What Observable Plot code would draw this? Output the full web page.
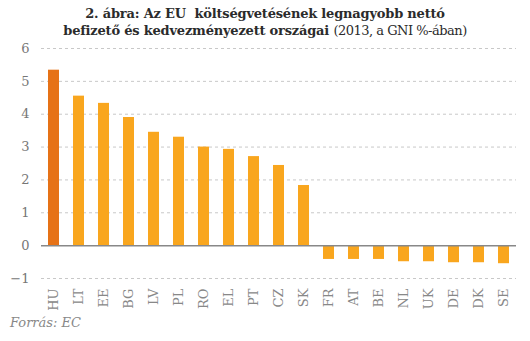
<!DOCTYPE html>
<html><head><meta charset="utf-8">
<script src="https://cdn.jsdelivr.net/npm/d3@7"></script>
<script src="https://cdn.jsdelivr.net/npm/@observablehq/plot@0.6"></script>
<style>
body{margin:0;background:#fff;width:530px;height:341px;overflow:hidden;position:relative;font-family:"DejaVu Serif",serif}
#title{position:absolute;top:5px;left:0;width:530px;text-align:center;font-size:13px;line-height:17px;color:#2b2b2b;font-weight:bold;letter-spacing:-0.2px}
#title .n{font-weight:normal;letter-spacing:-0.5px}
#chart{position:absolute;top:40px;left:0}
#cap{position:absolute;left:10px;top:315px;font-style:italic;font-size:13px;color:#888}
</style></head>
<body>
<div id="title">2. ábra: Az EU&nbsp; költségvetésének legnagyobb nettó<br>befizető és kedvezményezett országai <span class="n">(2013, a GNI %-ában)</span></div>
<div id="chart"></div>
<div id="cap">Forrás: EC</div>
<script>
const countries = ["HU","LT","EE","BG","LV","PL","RO","EL","PT","CZ","SK","FR","AT","BE","NL","UK","DE","DK","SE"];
const values = [5.34,4.55,4.33,3.9,3.45,3.3,3.0,2.93,2.71,2.44,1.83,-0.42,-0.42,-0.42,-0.49,-0.49,-0.52,-0.52,-0.55];
const yTicks = [-1,0,1,2,3,4,5,6];
const gridTicks = [-1,1,2,3,4,5,6];
const highlight = "HU";

const data = countries.map((c,i)=>({country:c, value:values[i]}));

const plot = Plot.plot({
  width:530, height:280,
  marginLeft:41, marginRight:14, marginTop:8, marginBottom:42,
  style:{fontFamily:"DejaVu Serif, serif", background:"transparent"},
  x:{domain:countries, paddingInner:0.56, paddingOuter:0.28, label:null},
  y:{domain:[-1,6], label:null},
  marks:[
    Plot.ruleY(gridTicks,{stroke:"#c8c8c8", strokeDasharray:"3,3", strokeWidth:1}),
    Plot.barY(data,{x:"country", y:"value", fill:d=>d.country===highlight?"#E67217":"#F9A61E"}),
    Plot.ruleY([0],{stroke:"#888", strokeWidth:1.5}),
    Plot.axisY(yTicks,{tickSize:0, tickPadding:12, fontSize:13, fill:"#777", label:null}),
    Plot.axisX({tickSize:0, tickRotate:-90, tickPadding:10, fontSize:13, fill:"#888", label:null})
  ]
});
document.getElementById("chart").appendChild(plot);
</script>
</body></html>
